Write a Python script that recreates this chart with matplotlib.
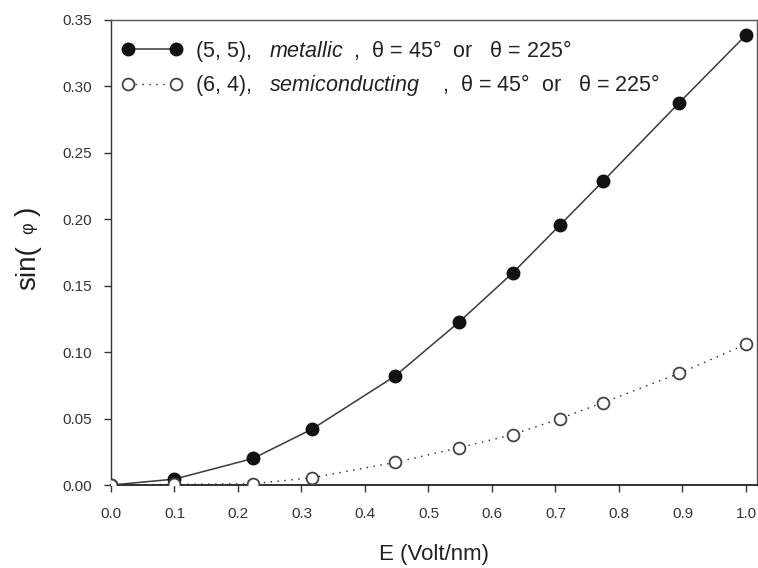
import matplotlib
matplotlib.use("Agg")
import matplotlib.pyplot as plt

plt.rcParams['font.family'] = ['Liberation Sans', 'DejaVu Sans']
plt.rcParams['mathtext.fontset'] = 'custom'
plt.rcParams['mathtext.rm'] = 'Liberation Sans'
plt.rcParams['mathtext.it'] = 'Liberation Sans:italic'

# electric field (Volt/nm)
E = [0.0, 0.1, 0.2236, 0.3162, 0.4472, 0.5477, 0.6325, 0.7071, 0.7746, 0.8944, 1.0]
# sin(phi) for the two tubes
metallic = [0.0, 0.0045, 0.020, 0.042, 0.082, 0.1225, 0.1596, 0.1957, 0.2285, 0.2875, 0.3387]
semicond = [0.0, 0.0005, 0.001, 0.0055, 0.017, 0.028, 0.038, 0.050, 0.062, 0.084, 0.106]

xticks = [0.0, 0.1, 0.2, 0.3, 0.4, 0.5, 0.6, 0.7, 0.8, 0.9, 1.0]
yticks = [0.00, 0.05, 0.10, 0.15, 0.20, 0.25, 0.30, 0.35]

lab_met = r"(5, 5),   $\it{metallic}$  ,  θ = 45°  or   θ = 225°"
lab_sem = r"(6, 4),   $\it{semiconducting}$    ,  θ = 45°  or   θ = 225°"

fig = plt.figure(figsize=(7.58, 5.68), dpi=100)
ax = fig.add_axes([0.1464, 0.146, 0.852, 0.8188])

ax.plot(E, metallic, '-', color='#3a3a3a', lw=1.1, marker='o', ms=9,
        mfc='#111111', mec='#111111', label=lab_met, zorder=3)
ax.plot(E, semicond, linestyle=(0, (1, 4)), color='#222222', lw=1.0, marker='o', ms=8.5,
        mfc='white', mec='#444444', mew=1.3, label=lab_sem, zorder=3)

ax.set_xlim(0, 1.017)
ax.set_ylim(0, 0.35)
ax.set_xticks(xticks)
ax.set_yticks(yticks)
ax.set_xticklabels([f"{t:.1f}" for t in xticks], fontsize=11, color='#333333')
ax.set_yticklabels([f"{t:.2f}" for t in yticks], fontsize=11, color='#333333')
ax.tick_params(direction='out', length=5, width=1, color='#333333')
ax.tick_params(axis='x', pad=11)
ax.tick_params(axis='y', pad=9)
for s in ax.spines.values():
    s.set_color('#555555')
    s.set_linewidth(1.0)
ax.spines['left'].set_color('#333333')
ax.spines['bottom'].set_color('#222222')
ax.spines['bottom'].set_linewidth(1.3)

ax.set_xlabel("E (Volt/nm)", fontsize=16, color='#222222', labelpad=16)

# y label: "sin(" large, phi smaller, like the original
fig.text(28 / 758, 1 - 268 / 568, "sin(", rotation=90, fontsize=20, color='#222222',
         ha='center', va='center')
fig.text(29 / 758, 1 - 228 / 568, "φ", rotation=90, fontsize=13, color='#222222',
         ha='center', va='center')
fig.text(28 / 758, 1 - 211 / 568, ")", rotation=90, fontsize=20, color='#222222',
         ha='center', va='center')

leg = ax.legend(loc='upper left', bbox_to_anchor=(0.0, 0.985), frameon=False,
                fontsize=15.5, numpoints=2, handlelength=2.8, borderaxespad=0.2,
                borderpad=0.3, labelspacing=0.4, handletextpad=0.6)
for t in leg.get_texts():
    t.set_color('#222222')

fig.savefig("out.png", dpi=100)
